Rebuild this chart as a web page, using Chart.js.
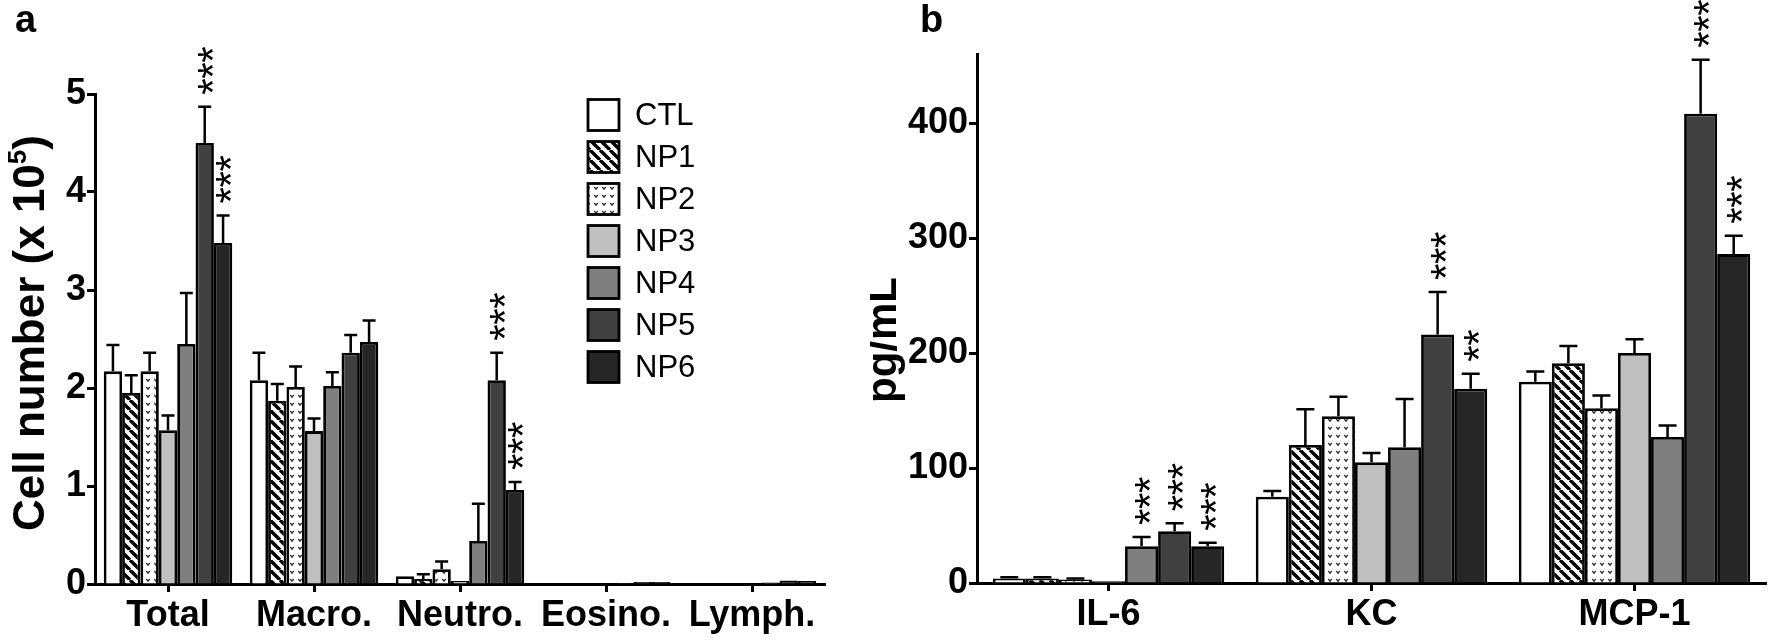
<!DOCTYPE html>
<html><head><meta charset="utf-8">
<script src="https://cdn.jsdelivr.net/npm/chart.js@4.4.1/dist/chart.umd.min.js"></script>
<style>
html,body{margin:0;padding:0;background:#fff;}
#wrap{position:relative;width:1773px;height:641px;overflow:hidden;background:#fff;}
#ca{position:absolute;left:0;top:0;width:870px;height:641px;}
#cb{position:absolute;left:870px;top:0;width:903px;height:641px;}
</style></head><body>
<div id="wrap"><canvas id="ca" width="870" height="641"></canvas><canvas id="cb" width="903" height="641"></canvas></div>
<script>
// ---------- DATA ----------
const seriesNames = ['CTL','NP1','NP2','NP3','NP4','NP5','NP6'];

// Panel a: BAL cell counts (x 10^5)
const cellCategories = ['Total','Macro.','Neutro.','Eosino.','Lymph.'];
const cellTicks = [0,1,2,3,4,5];
const cellCTL = [2.17, 2.08, 0.08, 0.005, 0.005];
const cellNP1 = [1.95, 1.87, 0.05, 0.005, 0.005];
const cellNP2 = [2.17, 2.01, 0.15, 0.005, 0.005];
const cellNP3 = [1.57, 1.56, 0.03, 0.005, 0.005];
const cellNP4 = [2.45, 2.02, 0.44, 0.01, 0.015];
const cellNP5 = [4.50, 2.36, 2.08, 0.02, 0.035];
const cellNP6 = [3.48, 2.47, 0.96, 0.02, 0.03];
const cellErrCTL = [0.27, 0.28, 0.01, 0.0, 0.0];
const cellErrNP1 = [0.18, 0.17, 0.05, 0.0, 0.0];
const cellErrNP2 = [0.19, 0.21, 0.08, 0.0, 0.0];
const cellErrNP3 = [0.15, 0.13, 0.01, 0.0, 0.0];
const cellErrNP4 = [0.52, 0.14, 0.38, 0.0, 0.005];
const cellErrNP5 = [0.37, 0.18, 0.28, 0.005, 0.01];
const cellErrNP6 = [0.28, 0.22, 0.08, 0.005, 0.01];
const cellStarsNP5 = ['***','','***','',''];
const cellStarsNP6 = ['***','','***','',''];

// Panel b: cytokines (pg/mL)
const cytoCategories = ['IL-6','KC','MCP-1'];
const cytoTicks = [0,100,200,300,400];
const cytoCTL = [4, 75, 175];
const cytoNP1 = [4, 120, 191];
const cytoNP2 = [3, 145, 152];
const cytoNP3 = [1.5, 105, 200];
const cytoNP4 = [32, 118, 127];
const cytoNP5 = [45, 216, 408];
const cytoNP6 = [32, 169, 286];
const cytoErrCTL = [1, 5, 9];
const cytoErrNP1 = [1, 31, 15];
const cytoErrNP2 = [1, 17, 11];
const cytoErrNP3 = [0.5, 8, 12];
const cytoErrNP4 = [8, 42, 10];
const cytoErrNP5 = [7, 37, 47];
const cytoErrNP6 = [3, 13, 16];
const cytoStarsNP4 = ['***','',''];
const cytoStarsNP5 = ['***','***','***'];
const cytoStarsNP6 = ['***','**','***'];

// ---------- STYLE ----------
const FONT = '"Liberation Sans", Arial, Helvetica, sans-serif';

function makeHatch(){
  const s = 10, c = document.createElement('canvas'); c.width = s; c.height = s;
  const x = c.getContext('2d');
  x.fillStyle = '#fff'; x.fillRect(0,0,s,s);
  x.strokeStyle = '#000'; x.lineWidth = 3.4;
  x.beginPath();
  for (const x0 of [-s, 0, s]) { x.moveTo(x0, 0); x.lineTo(x0 + s, s); }
  x.stroke();
  return x.createPattern(c, 'repeat');
}
function makeDots(){
  const s = 8, c = document.createElement('canvas'); c.width = s; c.height = s;
  const x = c.getContext('2d');
  x.fillStyle = '#fff'; x.fillRect(0,0,s,s);
  x.strokeStyle = '#333'; x.lineWidth = 1.3;
  x.beginPath(); x.moveTo(2.3, 3); x.lineTo(4, 5.2); x.lineTo(5.7, 3); x.stroke();
  return x.createPattern(c, 'repeat');
}
const fills = ['#ffffff', makeHatch(), makeDots(), '#c0c0c0', '#7f7f7f', '#404040', '#262626'];

function buildDatasets(means, errs, stars){
  return seriesNames.map((name, k) => ({
    label: name,
    data: means[k],
    errors: errs[k],
    stars: stars[k],
    backgroundColor: fills[k],
    borderColor: '#000',
    borderWidth: 2.8,
    borderSkipped: 'bottom',
    categoryPercentage: 0.88,
    barPercentage: 1.0
  }));
}

// error bars + significance stars
const errorBars = {
  id: 'errorBars',
  afterDatasetsDraw(chart, args, opts){
    const ctx = chart.ctx, ys = chart.scales.y;
    ctx.save();
    chart.data.datasets.forEach((ds, di) => {
      const meta = chart.getDatasetMeta(di);
      meta.data.forEach((bar, i) => {
        const v = ds.data[i], e = ds.errors[i];
        const yb = ys.getPixelForValue(v), yt = ys.getPixelForValue(v + e);
        ctx.strokeStyle = '#000'; ctx.lineWidth = 2.5; ctx.lineCap = 'butt';
        if (yb - yt > 1) {
          ctx.beginPath();
          ctx.moveTo(bar.x, yb); ctx.lineTo(bar.x, yt);
          ctx.moveTo(bar.x - opts.cap, yt); ctx.lineTo(bar.x + opts.cap, yt);
          ctx.stroke();
        }
        const st = ds.stars && ds.stars[i];
        if (st) {
          ctx.font = '42px ' + FONT;
          ctx.fillStyle = '#000';
          const m = ctx.measureText('*');
          const cx = (m.actualBoundingBoxRight - m.actualBoundingBoxLeft) / 2;
          const cy = (m.actualBoundingBoxAscent - m.actualBoundingBoxDescent) / 2;
          for (let k = 0; k < st.length; k++) {
            const yc = yt - opts.gap - k * opts.step;
            ctx.save();
            ctx.translate(bar.x + 1, yc);
            ctx.rotate(-Math.PI / 2);
            ctx.textAlign = 'left'; ctx.textBaseline = 'alphabetic';
            ctx.fillText('*', -cx, cy);
            ctx.restore();
          }
        }
      });
    });
    ctx.restore();
  }
};

// y-axis title (rotated) and panel letter, custom legend
const decor = {
  id: 'decor',
  afterDraw(chart, args, opts){
    const ctx = chart.ctx;
    ctx.save();
    ctx.fillStyle = '#000';
    ctx.font = 'bold 38px ' + FONT;
    ctx.textAlign = 'left'; ctx.textBaseline = 'middle';
    ctx.fillText(opts.letter, opts.letterX, opts.letterY);
    ctx.translate(opts.titleX, opts.titleY);
    ctx.rotate(-Math.PI / 2);
    ctx.textBaseline = 'middle';
    const mainF = 'bold ' + opts.titleSize + 'px ' + FONT;
    const supF = 'bold ' + Math.round(opts.titleSize * 0.6) + 'px ' + FONT;
    const parts = opts.title;
    let total = 0;
    parts.forEach(p => { ctx.font = p.sup ? supF : mainF; total += ctx.measureText(p.t).width; });
    let x = -total / 2;
    ctx.textAlign = 'left';
    parts.forEach(p => {
      ctx.font = p.sup ? supF : mainF;
      ctx.fillText(p.t, x, p.sup ? -opts.titleSize * 0.3 : 0);
      x += ctx.measureText(p.t).width;
    });
    ctx.restore();
    if (opts.legend) {
      const L = opts.legend;
      ctx.save();
      chart.data.datasets.forEach((ds, i) => {
        const yc = L.y0 + i * L.step;
        ctx.fillStyle = ds.backgroundColor;
        ctx.fillRect(L.x, yc - L.box / 2, L.box, L.box);
        ctx.strokeStyle = '#000'; ctx.lineWidth = 2.8;
        ctx.strokeRect(L.x, yc - L.box / 2, L.box, L.box);
        ctx.fillStyle = '#000';
        ctx.font = L.size + 'px ' + FONT;
        ctx.textAlign = 'left'; ctx.textBaseline = 'middle';
        ctx.fillText(ds.label, L.textX, yc + 1);
      });
      ctx.restore();
    }
  }
};

function axisCfg(){
  return {
    grid: { drawOnChartArea: false, drawTicks: true, tickLength: 8, tickWidth: 3, tickColor: '#000', offset: false },
    border: { display: true, color: '#000', width: 3 }
  };
}

function makeChart(canvasId, labels, datasets, yMax, ticks, opt){
  const xa = axisCfg(), ya = axisCfg();
  return new Chart(document.getElementById(canvasId), {
    type: 'bar',
    data: { labels: labels, datasets: datasets },
    plugins: [errorBars, decor],
    options: {
      responsive: false,
      animation: false,
      devicePixelRatio: 1,
      layout: { padding: { left: 0, top: opt.top, right: opt.right, bottom: 0 } },
      plugins: {
        legend: { display: false },
        tooltip: { enabled: false },
        errorBars: { cap: opt.cap, gap: 20, step: 16 },
        decor: opt.decor
      },
      scales: {
        x: Object.assign(xa, {
          offset: true,
          ticks: { color: '#000', font: { family: FONT, size: 36, weight: 'bold' }, padding: 2, maxRotation: 0, autoSkip: false },
          afterFit(s){ s.height = opt.xh; }
        }),
        y: Object.assign(ya, {
          min: 0, max: yMax,
          ticks: { color: '#000', font: { family: FONT, size: 36, weight: 'bold' }, padding: 1 },
          afterBuildTicks(s){ s.ticks = ticks.map(v => ({ value: v })); },
          afterFit(s){ s.width = opt.yw; }
        })
      }
    }
  });
}

makeChart('ca', cellCategories,
  buildDatasets(
    [cellCTL, cellNP1, cellNP2, cellNP3, cellNP4, cellNP5, cellNP6],
    [cellErrCTL, cellErrNP1, cellErrNP2, cellErrNP3, cellErrNP4, cellErrNP5, cellErrNP6],
    [null, null, null, null, null, cellStarsNP5, cellStarsNP6]),
  5, cellTicks,
  { top: 94, right: 45, xh: 57, yw: 95, cap: 6.5,
    decor: { letter: 'a', letterX: 15, letterY: 22, titleX: 32, titleY: 333, titleSize: 44,
      title: [{t:'Cell number (x 10'},{t:'5', sup:true},{t:')'}],
      legend: { x: 588, y0: 115, step: 42, box: 31, textX: 635, size: 31 } } });

makeChart('cb', cytoCategories,
  buildDatasets(
    [cytoCTL, cytoNP1, cytoNP2, cytoNP3, cytoNP4, cytoNP5, cytoNP6],
    [cytoErrCTL, cytoErrNP1, cytoErrNP2, cytoErrNP3, cytoErrNP4, cytoErrNP5, cytoErrNP6],
    [null, null, null, null, cytoStarsNP4, cytoStarsNP5, cytoStarsNP6]),
  460, cytoTicks,
  { top: 54, right: 7, xh: 58, yw: 107, cap: 9,
    decor: { letter: 'b', letterX: 50, letterY: 22, titleX: 14, titleY: 340, titleSize: 42,
      title: [{t:'pg/mL'}], legend: null } });
</script>
</body></html>
